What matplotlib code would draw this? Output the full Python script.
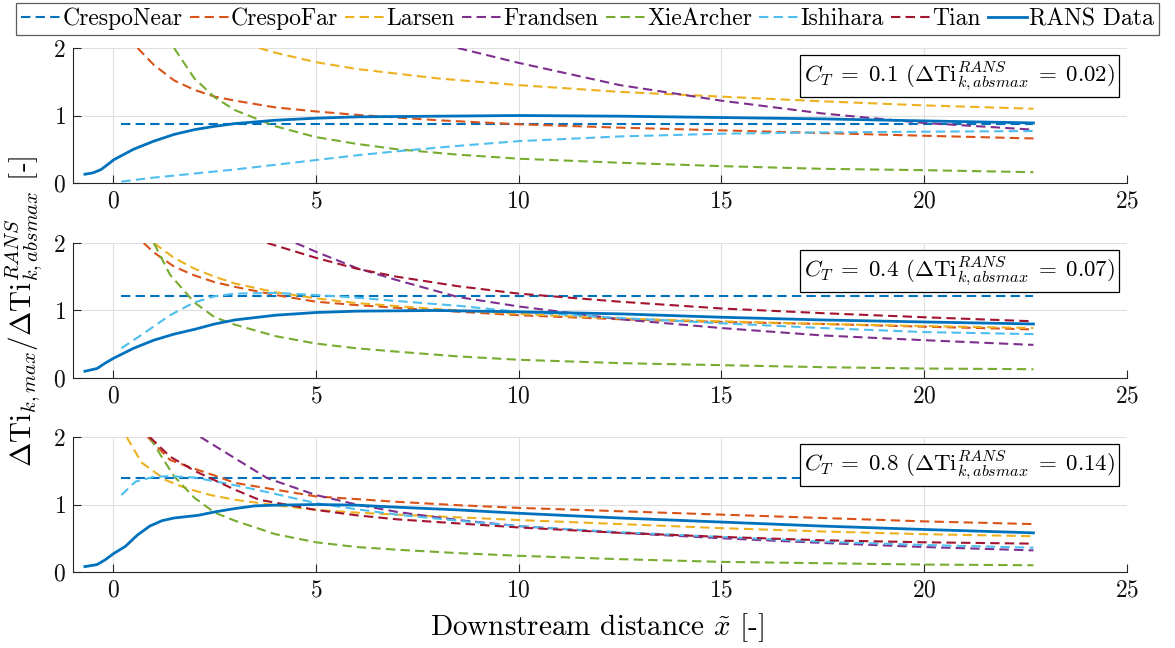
import matplotlib
matplotlib.use("Agg")
import matplotlib.pyplot as plt
from matplotlib.lines import Line2D

plt.rcParams['font.family'] = 'serif'
plt.rcParams['font.serif'] = ['cmr10']
plt.rcParams['mathtext.fontset'] = 'cm'
plt.rcParams['axes.formatter.use_mathtext'] = True

# ---------------- data ----------------
ct_labels = ["0.1", "0.4", "0.8"]
ti_absmax = ["0.02", "0.07", "0.14"]
model_names = ["CrespoNear", "CrespoFar", "Larsen", "Frandsen",
               "XieArcher", "Ishihara", "Tian"]
x_ticks = [0, 5, 10, 15, 20, 25]
y_ticks = [0, 1, 2]

# CT = 0.1
ct01_cnear_x = [0.2, 22.7]
ct01_cnear_y = [0.88, 0.88]
ct01_cfar_x = [0.6, 1.0, 1.5, 2.0, 2.5, 3, 4, 5, 6, 8, 10, 12.5, 15, 17.5, 20, 22.7]
ct01_cfar_y = [2.0, 1.75, 1.52, 1.38, 1.28, 1.22, 1.12, 1.06, 1.01, 0.93, 0.87, 0.82, 0.78, 0.74, 0.70, 0.66]
ct01_lars_x = [3.6, 4, 5, 6, 8, 10, 12.5, 15, 17.5, 20, 22.7]
ct01_lars_y = [2.0, 1.93, 1.79, 1.69, 1.55, 1.45, 1.35, 1.28, 1.21, 1.15, 1.10]
ct01_fran_x = [8.5, 10, 12.5, 15, 17.5, 20, 22.7]
ct01_fran_y = [2.0, 1.78, 1.45, 1.22, 1.03, 0.89, 0.79]
ct01_xie_x = [1.5, 2.0, 2.5, 3, 4, 5, 6, 7, 8.5, 10, 12.5, 15, 17.5, 20, 22.7]
ct01_xie_y = [2.0, 1.55, 1.27, 1.08, 0.84, 0.68, 0.58, 0.50, 0.42, 0.36, 0.30, 0.25, 0.21, 0.19, 0.16]
ct01_ishi_x = [0.2, 1, 2, 3, 4, 5, 6, 7, 8.5, 10, 12.5, 15, 17.5, 20, 22.7]
ct01_ishi_y = [0.02, 0.08, 0.14, 0.20, 0.27, 0.34, 0.41, 0.47, 0.55, 0.62, 0.69, 0.73, 0.75, 0.76, 0.77]
ct01_tian_x = []
ct01_tian_y = []
ct01_rans_x = [-0.7, -0.5, -0.3, -0.1, 0, 0.5, 1, 1.5, 2, 2.5, 3, 4, 5, 6, 8, 10, 12.5, 15, 17.5, 20, 22.7]
ct01_rans_y = [0.13, 0.15, 0.20, 0.29, 0.34, 0.50, 0.62, 0.72, 0.79, 0.84, 0.88, 0.93, 0.96, 0.98, 0.99, 1.0, 0.99, 0.97, 0.95, 0.92, 0.89]

# CT = 0.4
ct04_cnear_x = [0.2, 22.7]
ct04_cnear_y = [1.21, 1.21]
ct04_cfar_x = [0.75, 1, 1.5, 2, 2.5, 3, 4, 5, 6, 8, 10, 12.5, 15, 17.5, 20, 22.7]
ct04_cfar_y = [2.0, 1.86, 1.65, 1.52, 1.42, 1.35, 1.23, 1.13, 1.08, 1.0, 0.93, 0.87, 0.83, 0.80, 0.76, 0.72]
ct04_lars_x = [1.0, 1.5, 2, 2.5, 3, 4, 5, 6, 8, 10, 12.5, 15, 17.5, 20, 22.7]
ct04_lars_y = [2.0, 1.78, 1.62, 1.50, 1.40, 1.27, 1.18, 1.11, 1.02, 0.95, 0.88, 0.84, 0.80, 0.77, 0.74]
ct04_fran_x = [4.5, 5, 6, 7, 8.5, 10, 12.5, 15, 17.5, 20, 22.7]
ct04_fran_y = [2.0, 1.87, 1.63, 1.45, 1.20, 1.06, 0.87, 0.74, 0.63, 0.56, 0.49]
ct04_xie_x = [1.0, 1.4, 2, 2.5, 3, 4, 5, 6, 7, 8.5, 10, 12.5, 15, 17.5, 20, 22.7]
ct04_xie_y = [2.0, 1.53, 1.12, 0.90, 0.79, 0.62, 0.51, 0.44, 0.39, 0.32, 0.27, 0.22, 0.19, 0.16, 0.14, 0.13]
ct04_ishi_x = [0.2, 0.7, 1.4, 2, 2.5, 3, 4, 5, 6, 7, 8.5, 10, 12.5, 15, 17.5, 20, 22.7]
ct04_ishi_y = [0.44, 0.64, 0.93, 1.12, 1.21, 1.25, 1.26, 1.23, 1.19, 1.14, 1.07, 0.98, 0.89, 0.81, 0.74, 0.68, 0.65]
ct04_tian_x = [3.8, 5, 6, 7, 8.5, 10, 12.5, 15, 17.5, 20, 22.7]
ct04_tian_y = [2.0, 1.78, 1.62, 1.50, 1.36, 1.25, 1.13, 1.03, 0.96, 0.90, 0.84]
ct04_rans_x = [-0.7, -0.4, -0.2, 0, 0.5, 1, 1.5, 2, 2.5, 3, 4, 5, 6, 8, 10, 12.5, 15, 17.5, 20, 22.7]
ct04_rans_y = [0.10, 0.14, 0.22, 0.29, 0.44, 0.56, 0.65, 0.72, 0.80, 0.86, 0.93, 0.97, 0.99, 1.0, 0.98, 0.95, 0.90, 0.86, 0.83, 0.80]

# CT = 0.8
ct08_cnear_x = [0.2, 22.7]
ct08_cnear_y = [1.40, 1.40]
ct08_cfar_x = [0.85, 1.4, 2, 2.5, 3, 4, 5, 6, 7, 8.5, 10, 12.5, 15, 17.5, 20, 22.7]
ct08_cfar_y = [2.0, 1.66, 1.53, 1.43, 1.32, 1.22, 1.12, 1.08, 1.04, 0.99, 0.95, 0.90, 0.85, 0.80, 0.75, 0.71]
ct08_lars_x = [0.33, 0.7, 1.3, 1.8, 2.4, 3, 4, 5, 6, 7, 8.5, 10, 12.5, 15, 17.5, 20, 22.7]
ct08_lars_y = [2.0, 1.62, 1.36, 1.24, 1.14, 1.07, 0.99, 0.92, 0.88, 0.85, 0.81, 0.77, 0.71, 0.65, 0.60, 0.56, 0.53]
ct08_fran_x = [2.15, 2.8, 3.8, 5, 6, 7, 8.5, 10, 12.5, 15, 17.5, 20, 22.7]
ct08_fran_y = [2.0, 1.76, 1.39, 1.14, 1.0, 0.89, 0.77, 0.68, 0.58, 0.50, 0.43, 0.37, 0.32]
ct08_xie_x = [0.9, 1.2, 1.5, 2, 2.5, 3, 4, 5, 6, 7, 8.5, 10, 12.5, 15, 17.5, 20, 22.7]
ct08_xie_y = [2.0, 1.70, 1.42, 1.10, 0.88, 0.76, 0.56, 0.44, 0.37, 0.33, 0.28, 0.24, 0.19, 0.15, 0.13, 0.11, 0.10]
ct08_ishi_x = [0.2, 0.55, 1.0, 1.4, 2, 2.8, 3.6, 5, 6, 7, 8.5, 10, 12.5, 15, 17.5, 20, 22.7]
ct08_ishi_y = [1.14, 1.34, 1.41, 1.42, 1.40, 1.31, 1.21, 1.02, 0.93, 0.85, 0.76, 0.68, 0.59, 0.52, 0.45, 0.40, 0.36]
ct08_tian_x = [0.9, 1.4, 2, 2.5, 3, 3.6, 5, 6, 7, 8.5, 10, 12.5, 15, 17.5, 20, 22.7]
ct08_tian_y = [2.0, 1.71, 1.50, 1.36, 1.22, 1.07, 0.92, 0.84, 0.78, 0.72, 0.66, 0.58, 0.52, 0.47, 0.44, 0.42]
ct08_rans_x = [-0.7, -0.4, -0.2, 0, 0.3, 0.6, 0.9, 1.2, 1.5, 1.8, 2.1, 2.5, 3, 3.5, 4, 5, 6, 7, 8.5, 10, 12.5, 15, 17.5, 20, 22.7]
ct08_rans_y = [0.08, 0.11, 0.18, 0.27, 0.38, 0.55, 0.68, 0.76, 0.80, 0.82, 0.84, 0.89, 0.94, 0.98, 0.99, 1.0, 0.99, 0.96, 0.92, 0.87, 0.80, 0.74, 0.68, 0.63, 0.58]

cases = [
    [(ct01_cnear_x, ct01_cnear_y), (ct01_cfar_x, ct01_cfar_y), (ct01_lars_x, ct01_lars_y),
     (ct01_fran_x, ct01_fran_y), (ct01_xie_x, ct01_xie_y), (ct01_ishi_x, ct01_ishi_y),
     (ct01_tian_x, ct01_tian_y), (ct01_rans_x, ct01_rans_y)],
    [(ct04_cnear_x, ct04_cnear_y), (ct04_cfar_x, ct04_cfar_y), (ct04_lars_x, ct04_lars_y),
     (ct04_fran_x, ct04_fran_y), (ct04_xie_x, ct04_xie_y), (ct04_ishi_x, ct04_ishi_y),
     (ct04_tian_x, ct04_tian_y), (ct04_rans_x, ct04_rans_y)],
    [(ct08_cnear_x, ct08_cnear_y), (ct08_cfar_x, ct08_cfar_y), (ct08_lars_x, ct08_lars_y),
     (ct08_fran_x, ct08_fran_y), (ct08_xie_x, ct08_xie_y), (ct08_ishi_x, ct08_ishi_y),
     (ct08_tian_x, ct08_tian_y), (ct08_rans_x, ct08_rans_y)],
]

# ---------------- style ----------------
colors = ["#0072BD", "#D95319", "#EDB120", "#7E2F8E", "#77AC30", "#4DBEEE", "#A2142F"]
rans_color = "#0072BD"
dash = (4.5, 2.5)
axc = "#262626"
LW = 1.5

fig = plt.figure(figsize=(11.75, 6.48), dpi=100)
left, width = 0.0619, 0.897
bottoms = [0.7176, 0.4167, 0.1173]
height = 0.2083

for i, b in enumerate(bottoms):
    ax = fig.add_axes([left, b, width, height])
    data = cases[i]
    for j in range(7):
        xs, ys = data[j]
        if len(xs):
            ax.plot(xs, ys, color=colors[j], lw=LW, dashes=dash)
    xs, ys = data[7]
    ax.plot(xs, ys, color=rans_color, lw=2.0)
    ax.set_xlim(-1, 25)
    ax.set_ylim(0, 2)
    ax.set_xticks(x_ticks)
    ax.set_yticks(y_ticks)
    ax.grid(True, color="#e0e0e0", lw=0.8)
    ax.set_axisbelow(True)
    for s in ["top", "right"]:
        ax.spines[s].set_visible(False)
    for s in ["left", "bottom"]:
        ax.spines[s].set_color(axc)
        ax.spines[s].set_linewidth(0.8)
    ax.tick_params(direction="in", length=6, width=0.8, color=axc,
                   labelsize=17, labelcolor="#111111", pad=5)
    ax.text(0.989, 0.915,
            r"$C_T\;=\;%s$ ($\Delta\mathrm{Ti}_{k,absmax}^{RANS}\;=\;%s$)" % (ct_labels[i], ti_absmax[i]),
            transform=ax.transAxes, ha="right", va="top", fontsize=16.5,
            bbox=dict(boxstyle="square,pad=0.18", fc="white", ec="black", lw=0.9),
            zorder=5)

fig.text(0.021, 0.52, r"$\Delta\mathrm{Ti}_{k,max}/\Delta\mathrm{Ti}_{k,absmax}^{RANS}$ [-]",
         rotation=90, ha="center", va="center", fontsize=21)
fig.text(0.508, 0.032, r"Downstream distance $\tilde{x}$ [-]", ha="center", va="center", fontsize=21)

handles = [Line2D([], [], color=c, lw=LW, dashes=dash) for c in colors]
handles.append(Line2D([], [], color=rans_color, lw=2.0))
labels = model_names + ["RANS Data"]
leg = fig.legend(handles, labels, loc="upper center", bbox_to_anchor=(0.5, 0.995), ncol=8,
                 fontsize=17, frameon=True, fancybox=False, edgecolor="#333333",
                 handlelength=1.65, handletextpad=0.1, columnspacing=0.3,
                 borderpad=0.2, borderaxespad=0.0)
leg.get_frame().set_linewidth(0.9)

fig.savefig("out.png", dpi=100)
